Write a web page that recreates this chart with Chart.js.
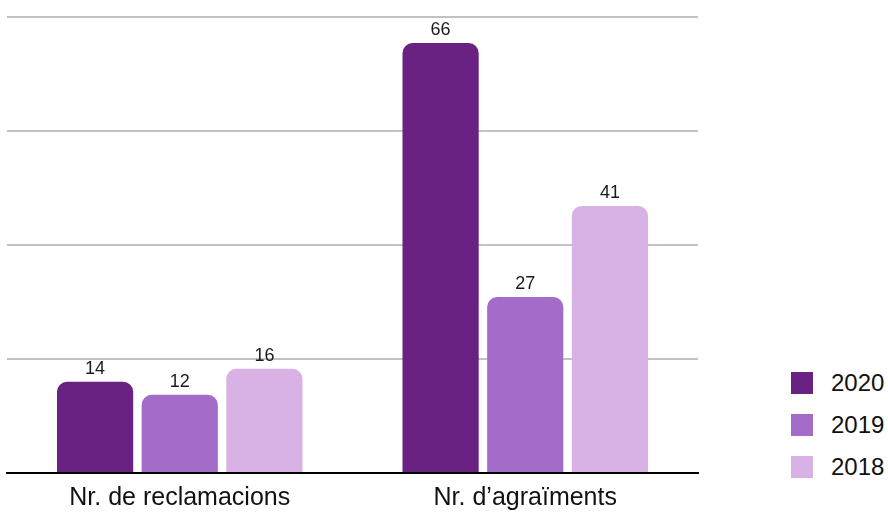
<!DOCTYPE html>
<html lang="ca">
<head>
    <meta charset="UTF-8">
    <title>Reclamacions i agraïments</title>
    <script src="https://cdn.jsdelivr.net/npm/chart.js@4.4.0/dist/chart.umd.min.js"></script>
    <style>
        html, body { margin: 0; padding: 0; background: #fff; }
        #wrap { position: relative; width: 888px; height: 512px; }
        #chart-box { position: absolute; left: 0; top: 0; width: 700px; height: 512px; }
        #legend { position: absolute; left: 791px; top: 372px; margin: 0; padding: 0; list-style: none;
                  font-family: "Liberation Sans", Arial, sans-serif; font-size: 24px; color: #111; }
        #legend li { display: flex; align-items: center; height: 22px; margin-bottom: 20px; }
        #legend span { display: inline-block; width: 22px; height: 22px; margin-right: 18px; }
    </style>
</head>
<body>
    <div id="wrap">
        <div id="chart-box"><canvas id="bar-chart"></canvas></div>
        <ul id="legend"></ul>
    </div>
    <script>
        const categories = ['Nr. de reclamacions', 'Nr. d\u2019agraïments'];
        const years = ['2020', '2019', '2018'];
        const values2020 = [14, 66];
        const values2019 = [12, 27];
        const values2018 = [16, 41];
        const colors = ['#6a2282', '#a36cc9', '#d8b1e5'];

        // numbers above each bar
        const barLabels = {
            id: 'barLabels',
            afterDatasetsDraw: chart => {
                const ctx = chart.ctx;
                ctx.save();
                ctx.font = '18px "Liberation Sans", Arial, sans-serif';
                ctx.fillStyle = '#1a1a1a';
                ctx.textAlign = 'center';
                ctx.textBaseline = 'bottom';
                chart.data.datasets.forEach((ds, i) => {
                    chart.getDatasetMeta(i).data.forEach((bar, j) => {
                        ctx.fillText(ds.data[j], bar.x, bar.y - 4);
                    });
                });
                ctx.restore();
            }
        };

        // legend built as html next to the canvas
        const htmlLegend = {
            id: 'htmlLegend',
            afterUpdate: chart => {
                const ul = document.getElementById('legend');
                ul.innerHTML = '';
                chart.options.plugins.legend.labels.generateLabels(chart).forEach(item => {
                    const li = document.createElement('li');
                    const box = document.createElement('span');
                    box.style.background = item.fillStyle;
                    li.appendChild(box);
                    li.appendChild(document.createTextNode(item.text));
                    ul.appendChild(li);
                });
            }
        };

        Chart.defaults.font.family = '"Liberation Sans", Arial, sans-serif';
        Chart.defaults.color = '#111';

        new Chart(document.getElementById('bar-chart'), {
            type: 'bar',
            data: {
                labels: categories,
                datasets: [
                    { label: years[0], data: values2020, backgroundColor: colors[0] },
                    { label: years[1], data: values2019, backgroundColor: colors[1] },
                    { label: years[2], data: values2018, backgroundColor: colors[2] }
                ]
            },
            options: {
                responsive: true,
                maintainAspectRatio: false,
                animation: false,
                datasets: {
                    bar: {
                        categoryPercentage: 0.735,
                        barPercentage: 0.9,
                        borderRadius: 10,
                        borderSkipped: 'start'
                    }
                },
                layout: { padding: { left: 7, top: 17, right: 2, bottom: -12 } },
                scales: {
                    x: {
                        grid: { display: false, drawTicks: false },
                        border: { display: true, color: '#000', width: 2 },
                        ticks: { font: { size: 25, lineHeight: 1 }, color: '#111', padding: 13 }
                    },
                    y: {
                        min: 0,
                        max: 70,
                        ticks: { display: false, stepSize: 17.5 },
                        grid: { color: '#c2c2c2', lineWidth: 2, drawTicks: false },
                        border: { display: false }
                    }
                },
                plugins: {
                    legend: { display: false },
                    tooltip: { enabled: false }
                }
            },
            plugins: [barLabels, htmlLegend]
        });
    </script>
</body>
</html>
